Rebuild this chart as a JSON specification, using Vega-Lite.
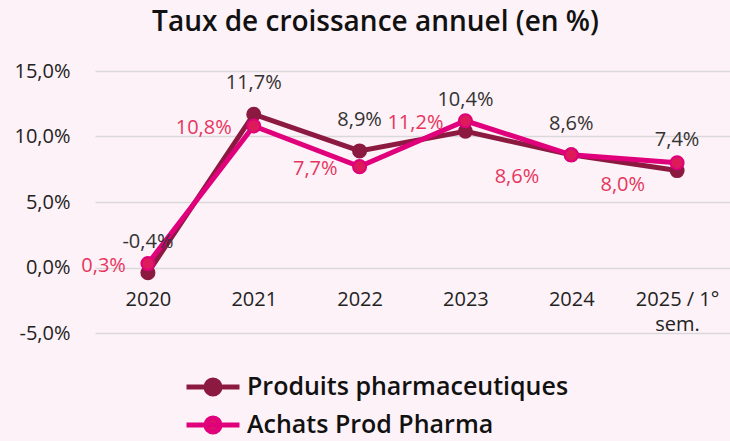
{
  "$schema": "https://vega.github.io/schema/vega-lite/v6.json",
  "width": 635,
  "height": 262,
  "autosize": "none",
  "padding": {"left": 95, "top": 71, "right": 0, "bottom": 108},
  "background": "#fdf2f7",
  "title": {
    "text": "Taux de croissance annuel (en %)",
    "anchor": "middle",
    "dx": -37,
    "offset": 24,
    "font": "Open Sans",
    "fontSize": 28,
    "fontWeight": 600,
    "color": "#111111"
  },
  "config": {
    "view": {"stroke": null},
    "font": "Open Sans",
    "locale": {
      "number": {
        "decimal": ",",
        "thousands": " ",
        "grouping": [3],
        "currency": ["", " €"],
        "minus": "-",
        "percent": "%"
      }
    }
  },
  "data": {
    "values": [
      {"annee": "2020", "serie": "Produits pharmaceutiques", "valeur": -0.004},
      {"annee": "2021", "serie": "Produits pharmaceutiques", "valeur": 0.117},
      {"annee": "2022", "serie": "Produits pharmaceutiques", "valeur": 0.089},
      {"annee": "2023", "serie": "Produits pharmaceutiques", "valeur": 0.104},
      {"annee": "2024", "serie": "Produits pharmaceutiques", "valeur": 0.086},
      {"annee": "2025 / 1° sem.", "serie": "Produits pharmaceutiques", "valeur": 0.074},
      {"annee": "2020", "serie": "Achats Prod Pharma", "valeur": 0.003},
      {"annee": "2021", "serie": "Achats Prod Pharma", "valeur": 0.108},
      {"annee": "2022", "serie": "Achats Prod Pharma", "valeur": 0.077},
      {"annee": "2023", "serie": "Achats Prod Pharma", "valeur": 0.112},
      {"annee": "2024", "serie": "Achats Prod Pharma", "valeur": 0.086},
      {"annee": "2025 / 1° sem.", "serie": "Achats Prod Pharma", "valeur": 0.080}
    ]
  },
  "encoding": {
    "x": {
      "field": "annee",
      "type": "ordinal",
      "sort": null,
      "scale": {"type": "point", "padding": 0.5},
      "axis": {
        "title": null,
        "domain": false,
        "ticks": false,
        "grid": false,
        "labelAngle": 0,
        "labelPadding": -44,
        "labelFont": "Open Sans",
        "labelFontSize": 20,
        "labelColor": "#222222",
        "labelLineHeight": 25,
        "labelExpr": "datum.value == '2025 / 1° sem.' ? ['2025 / 1°', 'sem.'] : datum.value"
      }
    },
    "y": {
      "field": "valeur",
      "type": "quantitative",
      "scale": {"domain": [-0.05, 0.15], "nice": false, "zero": false},
      "axis": {
        "title": null,
        "values": [-0.05, 0, 0.05, 0.1, 0.15],
        "format": ".1%",
        "domain": false,
        "ticks": false,
        "gridColor": "#d9d9d9",
        "gridWidth": 1.5,
        "labelPadding": 25,
        "labelFont": "Open Sans",
        "labelFontSize": 20,
        "labelColor": "#222222"
      }
    }
  },
  "layer": [
    {
      "mark": {"type": "line", "strokeWidth": 5},
      "encoding": {
        "color": {
          "field": "serie",
          "type": "nominal",
          "sort": ["Produits pharmaceutiques", "Achats Prod Pharma"],
          "scale": {"domain": ["Produits pharmaceutiques", "Achats Prod Pharma"], "range": ["#8c1a40", "#e0007b"]},
          "legend": {
            "title": null,
            "orient": "none",
            "legendX": 102,
            "legendY": 300,
            "direction": "vertical",
            "symbolType": "M-2,0L2,0M-0.53,0A0.53,0.53 0 1 0 0.53,0A0.53,0.53 0 1 0 -0.53,0",
            "symbolSize": 702,
            "symbolStrokeWidth": 5,
            "labelOffset": 18,
            "rowPadding": 2,
            "labelFont": "Open Sans",
            "labelFontSize": 25,
            "labelFontWeight": 600,
            "labelColor": "#111111",
            "labelLimit": 450,
            "encode": {
              "symbols": {"update": {"fill": {"scale": "color", "field": "value"}, "opacity": {"value": 1}}}
            }
          }
        },
        "detail": {"field": "serie"}
      }
    },
    {
      "mark": {"type": "point", "filled": true, "size": 170, "opacity": 1, "strokeWidth": 2},
      "encoding": {
        "fill": {
          "field": "serie",
          "type": "nominal",
          "scale": {"domain": ["Produits pharmaceutiques", "Achats Prod Pharma"], "range": ["#8c1a40", "#dd1a5a"]},
          "legend": null
        },
        "stroke": {
          "field": "serie",
          "type": "nominal",
          "scale": {"domain": ["Produits pharmaceutiques", "Achats Prod Pharma"], "range": ["#8c1a40", "#e0007b"]},
          "legend": null
        }
      }
    },
    {
      "transform": [{"filter": "datum.serie == 'Produits pharmaceutiques'"}],
      "mark": {"type": "text", "dy": -31, "baseline": "middle", "align": "center", "fontSize": 20, "color": "#333333", "font": "Open Sans"},
      "encoding": {
        "text": {"field": "valeur", "type": "quantitative", "format": ".1%"}
      }
    },
    {
      "transform": [
        {"filter": "datum.serie == 'Achats Prod Pharma' && (datum.annee == '2020' || datum.annee == '2021' || datum.annee == '2022' || datum.annee == '2023')"}
      ],
      "mark": {"type": "text", "dx": -22, "dy": 2, "baseline": "middle", "align": "right", "fontSize": 20, "color": "#e6365f", "font": "Open Sans"},
      "encoding": {
        "text": {"field": "valeur", "type": "quantitative", "format": ".1%"}
      }
    },
    {
      "transform": [
        {"filter": "datum.serie == 'Achats Prod Pharma' && (datum.annee == '2024' || datum.annee == '2025 / 1° sem.')"}
      ],
      "mark": {"type": "text", "dx": -32, "dy": 22, "baseline": "middle", "align": "right", "fontSize": 20, "color": "#e6365f", "font": "Open Sans"},
      "encoding": {
        "text": {"field": "valeur", "type": "quantitative", "format": ".1%"}
      }
    }
  ]
}
